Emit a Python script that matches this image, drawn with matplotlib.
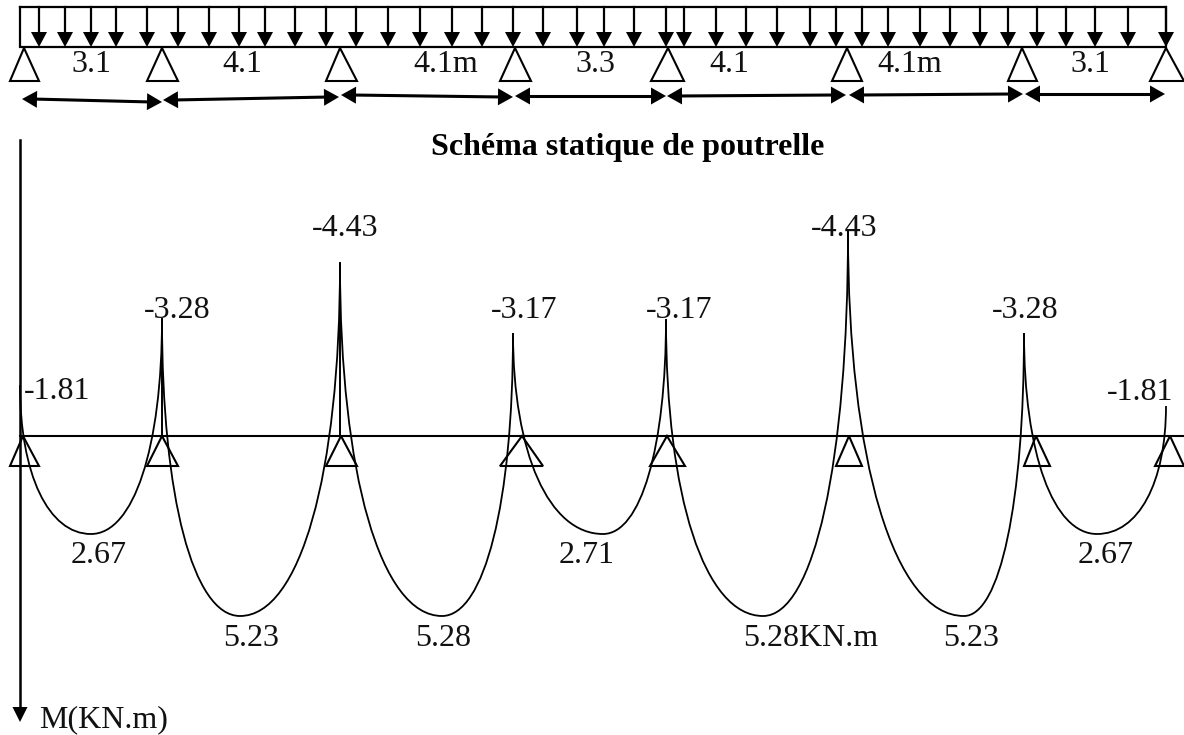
import numpy as np
import matplotlib
matplotlib.use("Agg")
import matplotlib.pyplot as plt
from matplotlib.path import Path
from matplotlib.patches import PathPatch, Polygon

plt.rcParams['font.family'] = ['Liberation Serif', 'DejaVu Serif']

# --- picture read-offs (drawing units = reference pixels) ---
load_x = [39, 65, 91, 116, 147, 178, 209, 239, 265, 295, 326, 356, 388, 420, 452, 482, 513,
          543, 577, 604, 634, 666, 684, 716, 746, 777, 810, 836, 862, 888, 920, 950, 980,
          1008, 1037, 1066, 1095, 1128, 1166]
top_supports = [(24, 10, 39), (162, 147, 178), (340, 326, 357), (515, 500, 531),
                (668, 651, 684), (847, 832, 862), (1022, 1008, 1037), (1166, 1150, 1184)]
bottom_supports = [(23, 10, 39), (162, 147, 178), (341, 326, 357), (522, 500, 543),
                   (667, 650, 685), (849, 836, 862), (1036, 1024, 1050), (1170, 1155, 1184)]
span_labels = ["3.1", "4.1", "4.1m", "3.3", "4.1", "4.1m", "3.1"]
span_label_x = [71, 222, 413, 575, 709, 877, 1070]
dim_start = [(22, 99), (163, 100), (341, 95), (515, 96), (667, 96), (849, 95), (1025, 94)]
dim_end = [(162, 102), (339, 97), (513, 97), (666, 96), (846, 95), (1023, 94), (1165, 94)]

peak_x = [20, 162, 340, 513, 666, 848, 1024, 1166]
peak_top = [385, 319, 263, 333, 319, 231, 333, 406]
sag_x = [91, 240, 442, 603, 763, 964, 1097]
sag_bottom = [534, 616, 616, 534, 616, 616, 534]
stemmed_peaks = [1, 2]

peak_labels = ["-1.81", "-3.28", "-4.43", "-3.17", "-3.17", "-4.43", "-3.28", "-1.81"]
peak_label_x = [24, 144, 312, 491, 646, 811, 992, 1107]
peak_label_y = [399, 318, 236, 318, 318, 236, 318, 400]
sag_labels = ["2.67", "5.23", "5.28", "2.71", "5.28KN.m", "5.23", "2.67"]
sag_label_x = [71, 223, 415, 559, 743, 943, 1078]
sag_label_y = [563, 646, 646, 563, 646, 646, 563]

FS = 23

fig = plt.figure(figsize=(11.84, 7.35), dpi=100)
ax = fig.add_axes([0, 0, 1, 1])
ax.set_xlim(0, 1184)
ax.set_ylim(735, 0)
ax.axis("off")


def head(tip, direction, length, half):
    d = np.array(direction, float)
    d /= np.hypot(*d)
    n = np.array([-d[1], d[0]])
    t = np.array(tip, float)
    b = t - d * length
    ax.add_patch(Polygon([t, b + n * half, b - n * half], closed=True, fc="black", ec="none", zorder=4))


# beam and load
ax.plot([20, 1166, 1166, 20, 20], [7, 7, 47, 47, 7], color="black", lw=1.6, solid_joinstyle="miter")
for x in load_x:
    ax.plot([x, x], [7, 33], color="black", lw=1.6)
    head((x, 47), (0, 1), 15, 8)

# supports, upper and lower
for apex, left, right in top_supports:
    ax.add_patch(Polygon([(apex, 48), (left, 81), (right, 81)], closed=True, fc="white", ec="black", lw=1.5))
for apex, left, right in bottom_supports:
    ax.add_patch(Polygon([(apex, 436), (left, 466), (right, 466)], closed=True, fc="none", ec="black", lw=1.5, zorder=3))

# span dimensions
for (x0, y0), (x1, y1), txt, tx in zip(dim_start, dim_end, span_labels, span_label_x):
    ax.plot([x0 + 10, x1 - 10], [y0, y1], color="black", lw=2.2)
    head((x0, y0), (x0 - x1, y0 - y1), 15, 8.5)
    head((x1, y1), (x1 - x0, y1 - y0), 15, 8.5)
    ax.text(tx, 72, txt, fontsize=FS, ha="left", va="baseline", color="#111111")

# title
ax.text(627.5, 155, "Schéma statique de poutrelle", fontsize=23, fontweight="bold",
        ha="center", va="baseline", color="black")

# moment axis and base line
ax.plot([20, 20], [140, 708], color="black", lw=1.8)
head((20, 722), (0, 1), 15, 7.5)
ax.plot([20, 1184], [436, 436], color="black", lw=1.5)
ax.text(39, 727, "M(KN.m)", fontsize=FS, ha="left", va="baseline", color="#111111")

# moment curve
ALPHA, BETA = 0.6, 0.6
for i, (sx, sy) in enumerate(zip(sag_x, sag_bottom)):
    xl, yl, xr, yr = peak_x[i], peak_top[i], peak_x[i + 1], peak_top[i + 1]
    verts = [(xl, yl), (xl, yl + ALPHA * (sy - yl)), (sx - BETA * (sx - xl), sy), (sx, sy),
             (sx + BETA * (xr - sx), sy), (xr, yr + ALPHA * (sy - yr)), (xr, yr)]
    codes = [Path.MOVETO] + [Path.CURVE4] * 6
    ax.add_patch(PathPatch(Path(verts, codes), fc="none", ec="black", lw=1.3, zorder=3))

# support stems that run down to the base line
for i in stemmed_peaks:
    ax.plot([peak_x[i], peak_x[i]], [peak_top[i], 436], color="black", lw=1.4)

# moment labels
for txt, x, y in zip(peak_labels, peak_label_x, peak_label_y):
    ax.text(x, y, txt, fontsize=FS, ha="left", va="baseline", color="#111111", zorder=5)
for txt, x, y in zip(sag_labels, sag_label_x, sag_label_y):
    ax.text(x, y, txt, fontsize=FS, ha="left", va="baseline", color="#111111", zorder=5)

fig.savefig("out.png", dpi=100, facecolor="white")
